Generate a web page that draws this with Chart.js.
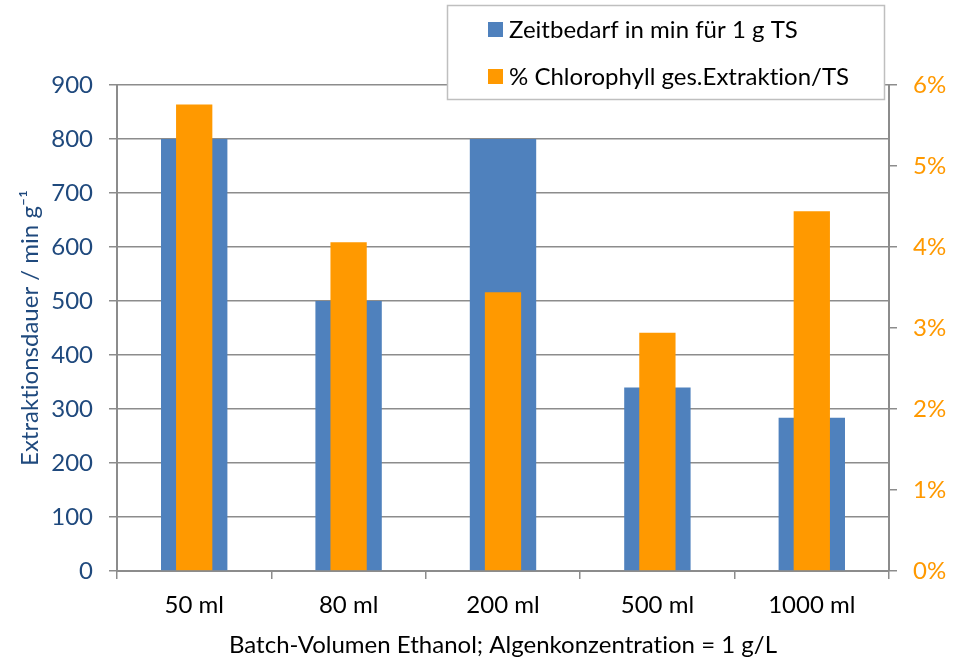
<!DOCTYPE html>
<html>
<head>
<meta charset="utf-8">
<script src="https://cdn.jsdelivr.net/npm/chart.js@4/dist/chart.umd.min.js"></script>
<style>
html,body{margin:0;padding:0;background:#fff;}
#wrap{width:957px;height:660px;position:relative;}
</style>
</head>
<body>
<div id="wrap"><canvas id="c" width="957" height="660"></canvas></div>
<script>
const categories = ['50 ml', '80 ml', '200 ml', '500 ml', '1000 ml'];
const zeitbedarf = [800, 500, 800, 340, 284];
const chlorophyll = [5.76, 4.06, 3.44, 2.94, 4.44];
const leftTicks = [0, 100, 200, 300, 400, 500, 600, 700, 800, 900];
const rightTicks = [0, 1, 2, 3, 4, 5, 6];
const seriesLabels = ['Zeitbedarf in min für 1 g TS', '% Chlorophyll ges.Extraktion/TS'];
const xTitle = 'Batch-Volumen Ethanol; Algenkonzentration = 1 g/L';
const yTitle = 'Extraktionsdauer / min g⁻¹';

const BLUE = '#4F81BD';
const ORANGE = '#FF9900';
const AXIS = '#8C8C8C';
const FONT = 'Lato';
const FS = 24;

const noLigPlugin = {
  id: 'noLig',
  beforeDraw(chart) {
    if ('letterSpacing' in chart.ctx) chart.ctx.letterSpacing = '0.01px';
  }
};

const legendPlugin = {
  id: 'boxLegend',
  afterDraw(chart) {
    const ctx = chart.ctx;
    ctx.save();
    if ('letterSpacing' in ctx) ctx.letterSpacing = '0.01px';
    ctx.fillStyle = '#fff';
    ctx.fillRect(447, 5, 437, 95);
    ctx.strokeStyle = '#BFBFBF';
    ctx.lineWidth = 1.5;
    ctx.strokeRect(447.5, 5.5, 437, 94);
    ctx.font = FS + 'px ' + FONT;
    ctx.textBaseline = 'alphabetic';
    ctx.textAlign = 'left';
    chart.data.datasets.forEach((ds, i) => {
      const y = i === 0 ? 22 : 69;
      ctx.fillStyle = ds.backgroundColor;
      ctx.fillRect(488, y, 15, 15);
      ctx.fillStyle = '#000';
      ctx.fillText(ds.label, 509, y + 16);
    });
    ctx.restore();
  }
};

new Chart(document.getElementById('c'), {
  type: 'bar',
  data: {
    labels: categories,
    datasets: [
      { label: seriesLabels[0], data: zeitbedarf, backgroundColor: BLUE, yAxisID: 'y',
        grouped: false, order: 2, categoryPercentage: 1, barPercentage: 0.43 },
      { label: seriesLabels[1], data: chlorophyll, backgroundColor: ORANGE, yAxisID: 'y2',
        grouped: false, order: 1, categoryPercentage: 1, barPercentage: 0.235 }
    ]
  },
  options: {
    responsive: false,
    animation: false,
    devicePixelRatio: 1,
    layout: { padding: { top: 85, left: 0, right: 0, bottom: 0 } },
    plugins: { legend: { display: false }, tooltip: { enabled: false } },
    scales: {
      x: {
        offset: true,
        grid: { display: true, drawOnChartArea: false, drawTicks: true, tickLength: 8, color: AXIS, lineWidth: 1.5, offset: true },
        border: { display: true, color: AXIS, width: 2 },
        ticks: { color: '#000', font: { family: FONT, size: FS }, padding: 12, maxRotation: 0 },
        title: { display: true, text: xTitle, color: '#000', font: { family: FONT, size: FS }, padding: { top: 6, bottom: 0 } },
        afterFit(s) { s.height = 89; }
      },
      y: {
        position: 'left',
        min: 0, max: 900,
        afterBuildTicks(s) { s.ticks = leftTicks.map(v => ({ value: v })); },
        grid: { color: AXIS, lineWidth: 1.5, tickLength: 8 },
        border: { display: true, color: AXIS, width: 2 },
        ticks: { color: '#1F497D', font: { family: FONT, size: FS }, padding: 16 },
        title: { display: true, text: yTitle, color: '#1F497D', font: { family: FONT, size: FS }, padding: { top: 16, bottom: 0 } },
        afterFit(s) { s.width = 117; }
      },
      y2: {
        position: 'right',
        min: 0, max: 6,
        afterBuildTicks(s) { s.ticks = rightTicks.map(v => ({ value: v })); },
        grid: { drawOnChartArea: false, color: AXIS, lineWidth: 1.5, tickLength: 8 },
        border: { display: true, color: AXIS, width: 2 },
        ticks: { color: '#FF9900', font: { family: FONT, size: FS }, padding: 16, callback: v => v + '%' },
        afterFit(s) { s.width = 68; }
      }
    }
  },
  plugins: [noLigPlugin, legendPlugin]
});
</script>
</body>
</html>
